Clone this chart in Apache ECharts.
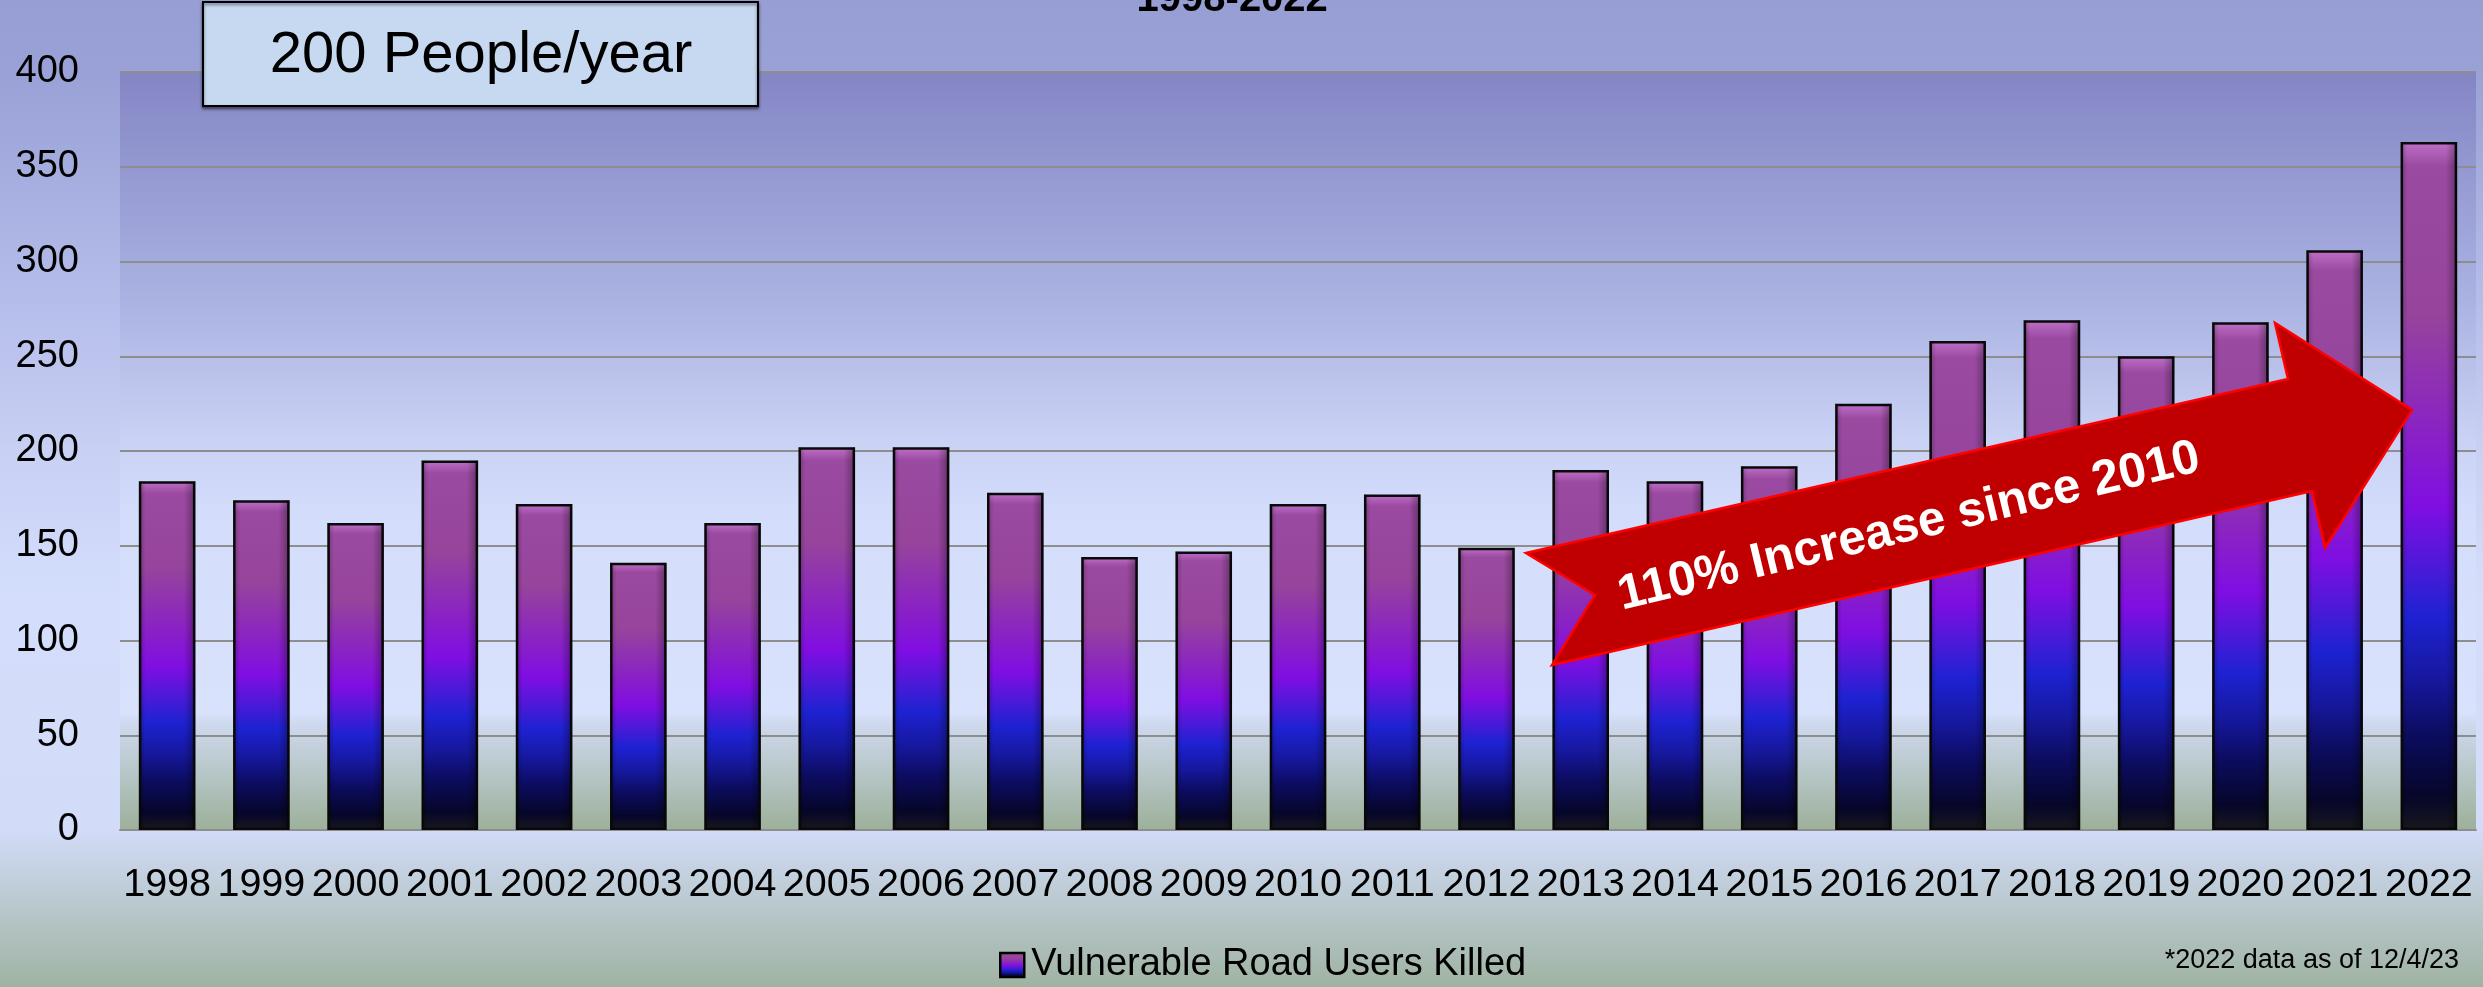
<!DOCTYPE html>
<html>
<head>
<meta charset="utf-8">
<script src="https://cdn.jsdelivr.net/npm/echarts@6/dist/echarts.min.js"></script>
<style>
  html, body { margin: 0; padding: 0; }
  #chart { width: 2483px; height: 987px; }
</style>
</head>
<body>
<div id="chart"></div>
<script>
// ---- data ----
const years = ['1998','1999','2000','2001','2002','2003','2004','2005','2006','2007','2008','2009','2010','2011','2012','2013','2014','2015','2016','2017','2018','2019','2020','2021','2022'];
const killed = [184, 174, 162, 195, 172, 141, 162, 202, 202, 178, 144, 147, 172, 177, 149, 190, 184, 192, 225, 258, 269, 250, 268, 306, 363];
const seriesName = 'Vulnerable Road Users Killed';
const yTicks = { min: 0, max: 400, interval: 50 };
const titleText = '1998-2022*';
const boxText = '200 People/year';
const arrowText = '110% Increase since 2010';
const footnote = '*2022 data as of 12/4/23';

const FONT = '"Liberation Sans", Arial, sans-serif';
const chart = echarts.init(document.getElementById('chart'), null, { renderer: 'canvas' });
const LG = echarts.graphic.LinearGradient;

const barGrad = new LG(0, 0, 0, 1, [
  { offset: 0, color: '#c070c8' },
  { offset: 0.035, color: '#9a4aa0' },
  { offset: 0.25, color: '#96449c' },
  { offset: 0.42, color: '#8a22c4' },
  { offset: 0.53, color: '#800ee2' },
  { offset: 0.62, color: '#4a1ad8' },
  { offset: 0.69, color: '#1e22d2' },
  { offset: 0.78, color: '#16189e' },
  { offset: 0.86, color: '#0c0c60' },
  { offset: 0.95, color: '#06062a' },
  { offset: 1, color: '#18181e' }
]);
const sideShade = new LG(0, 0, 1, 0, [
  { offset: 0, color: 'rgba(0,0,0,0.25)' },
  { offset: 0.12, color: 'rgba(0,0,0,0)' },
  { offset: 0.8, color: 'rgba(0,0,0,0)' },
  { offset: 1, color: 'rgba(0,0,0,0.35)' }
]);

const option = {
  backgroundColor: new LG(0, 0, 0, 1, [
    { offset: 0, color: '#969ed4' },
    { offset: 0.073, color: '#99a1d6' },
    { offset: 0.30, color: '#b4bcea' },
    { offset: 0.456, color: '#c8d0f4' },
    { offset: 0.61, color: '#d4defc' },
    { offset: 0.84, color: '#d2dcf8' },
    { offset: 1, color: '#9fb3a2' }
  ]),
  animation: false,
  textStyle: { fontFamily: FONT },
  grid: {
    left: 120, right: 7, top: 72, bottom: 157,
    show: true, borderWidth: 0,
    backgroundColor: new LG(0, 0, 0, 1, [
      { offset: 0, color: '#8486c4' },
      { offset: 0.3, color: '#aab2e2' },
      { offset: 0.5, color: '#ccd4f6' },
      { offset: 0.6, color: '#d4defc' },
      { offset: 0.845, color: '#d8e2fc' },
      { offset: 0.86, color: '#ced9ee' },
      { offset: 1, color: '#9cb09a' }
    ])
  },
  legend: {
    data: [{ name: seriesName, icon: 'rect' }],
    left: 994, top: 941,
    itemWidth: 24, itemHeight: 24, itemGap: 10,
    textStyle: { fontSize: 38, color: '#000', fontFamily: FONT, padding: [0, 0, 0, 2] },
    itemStyle: { borderColor: '#000', borderWidth: 2.5 }
  },
  xAxis: {
    type: 'category',
    data: years,
    axisLine: { lineStyle: { color: '#8e8e8e', width: 2 } },
    axisTick: { show: false },
    axisLabel: { fontSize: 39.5, color: '#000', margin: 35, fontFamily: FONT, interval: 0 }
  },
  yAxis: {
    type: 'value',
    min: yTicks.min, max: yTicks.max, interval: yTicks.interval,
    axisLine: { show: false },
    axisTick: { show: false },
    axisLabel: { fontSize: 38, color: '#000', margin: 41, fontFamily: FONT },
    splitLine: { lineStyle: { color: '#8e8e8e', width: 2 } }
  },
  series: [
    {
      name: seriesName,
      type: 'bar',
      data: killed,
      barWidth: '60%',
      itemStyle: { color: barGrad, borderColor: '#0a0a0a', borderWidth: 2.5 },
      z: 2
    },
    {
      name: 'shade',
      type: 'bar',
      data: killed,
      barWidth: '60%',
      barGap: '-100%',
      silent: true,
      itemStyle: { color: sideShade },
      z: 3
    }
  ],
  graphic: [
    {
      type: 'text', x: 1240, y: 0, z: 10,
      style: { text: titleText, fill: '#000', font: 'bold 40px ' + FONT, textAlign: 'center', textVerticalAlign: 'middle' }
    },
    {
      type: 'rect', z: 10,
      shape: { x: 203, y: 2, width: 555, height: 104 },
      style: { fill: '#c6d9f1', stroke: '#000', lineWidth: 2, shadowBlur: 3, shadowOffsetY: 2, shadowColor: 'rgba(0,0,0,0.5)' }
    },
    {
      type: 'text', x: 481, y: 56, z: 11,
      style: { text: boxText, fill: '#000', font: '58px ' + FONT, textAlign: 'center', textVerticalAlign: 'middle' }
    },
    {
      type: 'polygon', z: 10,
      shape: { points: [[1526,553],[2288,379],[2275,323],[2412,410],[2325,548],[2312,491],[1552,665],[1595,595]] },
      style: { fill: '#c00000', stroke: '#ff0000', lineWidth: 2.5, lineJoin: 'miter' }
    },
    {
      type: 'text', x: 1909, y: 527, z: 11, rotation: 13.5 * Math.PI / 180,
      style: { text: arrowText, fill: '#fff', font: 'bold 49px ' + FONT, textAlign: 'center', textVerticalAlign: 'middle' }
    },
    {
      type: 'text', x: 2459, y: 961, z: 10,
      style: { text: footnote, fill: '#000', font: '27px ' + FONT, textAlign: 'right', textVerticalAlign: 'middle' }
    }
  ]
};
chart.setOption(option);
</script>
</body>
</html>
